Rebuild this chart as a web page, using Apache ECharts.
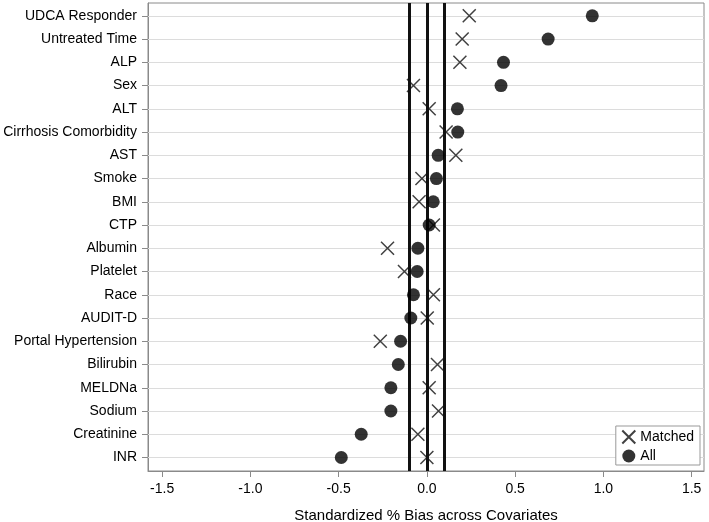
<!DOCTYPE html>
<html>
<head>
<meta charset="utf-8">
<script src="https://cdn.jsdelivr.net/npm/echarts@6/dist/echarts.min.js"></script>
<style>
html,body{margin:0;padding:0;background:#fff;}
#chart{width:709px;height:522px;}
</style>
</head>
<body>
<div id="chart"></div>
<script>
var categories = ["UDCA Responder","Untreated Time","ALP","Sex","ALT","Cirrhosis Comorbidity","AST","Smoke","BMI","CTP","Albumin","Platelet","Race","AUDIT-D","Portal Hypertension","Bilirubin","MELDNa","Sodium","Creatinine","INR"];
var matched = [0.24,0.20,0.187,-0.076,0.013,0.109,0.164,-0.028,-0.044,0.037,-0.223,-0.127,0.037,0.002,-0.264,0.06,0.013,0.066,-0.051,0.0];
var allVals = [0.937,0.687,0.434,0.42,0.173,0.175,0.064,0.054,0.036,0.013,-0.051,-0.055,-0.076,-0.091,-0.149,-0.162,-0.204,-0.204,-0.372,-0.485];
var xTicks = [-1.5,-1.0,-0.5,0.0,0.5,1.0,1.5];
var refLines = [-0.1,0.0,0.1];

var idx = categories.map(function(c,i){return i;});
var font = '"Liberation Sans", Arial, sans-serif';
var chart = echarts.init(document.getElementById('chart'));
chart.setOption({
  animation:false,
  backgroundColor:'#fff',
  grid:{left:148,top:3,width:556,height:468,show:true,borderColor:'#8a8a8a',borderWidth:1,containLabel:false,outerBoundsMode:'none'},
  xAxis:{
    type:'value',min:-1.58,max:1.57,
    name:'Standardized % Bias across Covariates',nameLocation:'middle',nameGap:37,
    nameTextStyle:{fontFamily:font,fontSize:15,color:'#000'},
    axisLine:{show:true,onZero:false,lineStyle:{color:'#8a8a8a',width:1}},
    axisTick:{show:true,length:6,customValues:xTicks,lineStyle:{color:'#8a8a8a'}},
    axisLabel:{customValues:xTicks,margin:11,fontFamily:font,fontSize:14,color:'#000',formatter:function(v){return Number(v).toFixed(1);}},
    splitLine:{show:false}
  },
  yAxis:{
    type:'value',min:-0.55,max:19.58,inverse:true,
    axisLine:{show:true,onZero:false,lineStyle:{color:'#8a8a8a',width:1}},
    axisTick:{show:true,length:6,customValues:idx,lineStyle:{color:'#8a8a8a'}},
    axisLabel:{customValues:idx,margin:11,fontFamily:font,fontSize:14,color:'#000',formatter:function(v){return categories[Math.round(v)]||'';}},
    splitLine:{show:false}
  },
  legend:{
    orient:'vertical',right:9,bottom:57,z:20,
    data:['Matched','All'],
    backgroundColor:'#fff',
    borderColor:'#999',borderWidth:1,padding:[2,6,2,4],
    itemWidth:13,itemHeight:13,itemGap:3,
    textStyle:{fontFamily:font,fontSize:14,color:'#000'}
  },
  series:[
    {
      name:'grid',type:'line',data:[],silent:true,z:1,
      markLine:{silent:true,symbol:'none',animation:false,label:{show:false},
        lineStyle:{color:'#dcdcdc',width:1,type:'solid'},
        data:idx.map(function(i){return {yAxis:i};})}
    },
    {
      name:'ref',type:'line',data:[],silent:true,z:2,
      markLine:{silent:true,symbol:'none',animation:false,label:{show:false},
        lineStyle:{color:'#111',width:3,type:'solid'},
        data:refLines.map(function(v){return {xAxis:v};})}
    },
    {
      name:'Matched',type:'scatter',z:5,
      symbol:'path://M0,0L10,10M10,0L0,10',symbolSize:13,
      itemStyle:{color:'none',borderColor:'#111',borderWidth:1.5},
      data:matched.map(function(v,i){return [v,i];})
    },
    {
      name:'All',type:'scatter',z:6,
      symbol:'circle',symbolSize:13,
      itemStyle:{color:'#000'},
      data:allVals.map(function(v,i){return [v,i];})
    }
  ]
});
</script>
</body>
</html>
